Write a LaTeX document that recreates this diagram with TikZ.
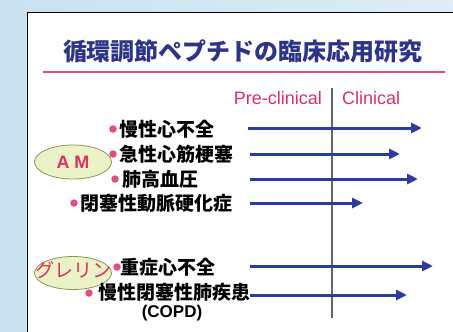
\documentclass[tikz,border=0pt]{standalone}
\usepackage{fontspec}
\setmainfont{Liberation Sans}
\newfontfamily\jp{Noto Sans CJK JP}
\usetikzlibrary{arrows.meta,shapes.geometric}
\definecolor{bgblue}{RGB}{200,226,240}
\definecolor{titleblue}{RGB}{44,52,135}
\definecolor{rulepink}{RGB}{225,80,120}
\definecolor{txtpink}{RGB}{222,48,96}
\definecolor{arrblue}{RGB}{43,60,158}
\definecolor{ellfill}{RGB}{236,242,200}
\definecolor{elldraw}{RGB}{140,150,80}
\begin{document}
\begin{tikzpicture}[x=1pt,y=-1pt,
  jptxt/.style={font=\jp\bfseries\fontsize{19}{21}\selectfont, text=black, inner sep=0pt, anchor=west},
  bul/.style={circle, fill=rulepink, inner sep=0pt, minimum size=7.5pt},
  arr/.style={draw=arrblue, line width=3pt, -{Triangle[length=11pt,width=10pt]}},
  oval/.style={ellipse, draw=elldraw, fill=ellfill, line width=0.8pt, minimum width=77pt, minimum height=34pt, inner sep=0pt},
  phase/.style={font=\fontsize{18}{20}\selectfont, text=txtpink, inner sep=0pt}
]
\useasboundingbox (0,0) rectangle (453,332);
% background
\fill[left color=bgblue, right color=bgblue!60!white] (0,0) rectangle (453,332);
\fill[white] (27,12) rectangle (453,332);
\draw[black, line width=1pt] (27,332) -- (27,12) -- (453,12);
% title
\node[font=\jp\bfseries\fontsize{24}{26}\selectfont, text=titleblue, inner sep=0pt] (title) at (243,51) {循環調節ペプチドの臨床応用研究};
\coordinate (rl) at (43,72);
\coordinate (rr) at (445,72);
\draw[rulepink, line width=2pt] (rl) -- (rr);
% phases
\node[phase, anchor=east] (pre) at (322,98) {Pre-clinical};
\node[phase, anchor=west] (cli) at (342,98) {Clinical};
\coordinate (vt) at (332,88);
\coordinate (vb) at (332,318);
\draw[gray!80!black, line width=2.5pt] (vt) -- (vb);
% AM group
\node[oval] (am) at (73,162) {};
\node[font=\bfseries\fontsize{18}{20}\selectfont, text=txtpink, inner sep=0pt] (amt) at (73,162) {A M};
\node[bul] (b1) at (113,129) {};
\node[jptxt] (t1) at (119,129) {慢性心不全};
\node[bul] (b2) at (113,154) {};
\node[jptxt] (t2) at (119,154) {急性心筋梗塞};
\node[bul] (b3) at (115,179) {};
\node[jptxt] (t3) at (122,179) {肺高血圧};
\node[bul] (b4) at (74,203) {};
\node[jptxt] (t4) at (80,203) {閉塞性動脈硬化症};
% Ghrelin group
\node[oval, minimum height=33pt] (gr) at (73,273) {};
\node[font=\jp\fontsize{19}{21}\selectfont, text=txtpink, inner sep=0pt] (grt) at (73,270) {グレリン};
\node[bul] (b5) at (117,267) {};
\node[jptxt] (t5) at (120,267) {重症心不全};
\node[bul] (b6) at (89,293) {};
\node[jptxt] (t6) at (98,292) {慢性閉塞性肺疾患};
\node[font=\bfseries\fontsize{17}{19}\selectfont, inner sep=0pt] (copd) at (172,313) {(COPD)};
% arrows
\coordinate (a1s) at (248,128); \coordinate (a1e) at (422,128);
\coordinate (a2s) at (250,154); \coordinate (a2e) at (400,154);
\coordinate (a3s) at (250,179); \coordinate (a3e) at (418,179);
\coordinate (a4s) at (250,203); \coordinate (a4e) at (363,203);
\coordinate (a5s) at (250,266); \coordinate (a5e) at (433,266);
\coordinate (a6e) at (407,295);
\draw[arr] (a1s) -- (a1e);
\draw[arr] (a2s) -- (a2e);
\draw[arr] (a3s) -- (a3e);
\draw[arr] (a4s) -- (a4e);
\draw[arr] (a5s) -- (a5e);
\draw[arr] (t6.east |- a6e) -- (a6e);
\end{tikzpicture}
\end{document}
